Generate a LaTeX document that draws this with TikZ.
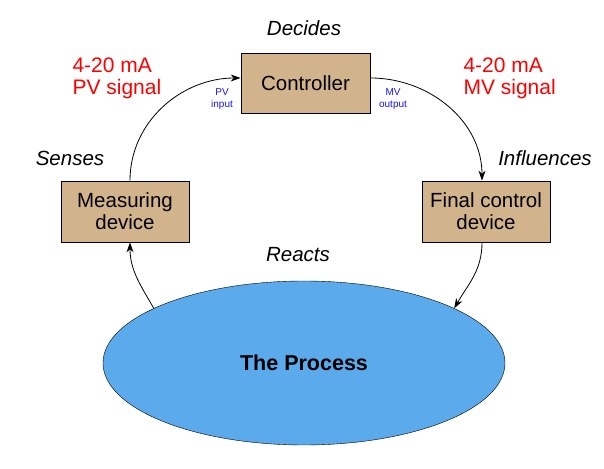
\documentclass[tikz,border=0pt]{standalone}
\usepackage{fontspec}
\setmainfont{Liberation Sans}
\usepackage{xcolor}
\definecolor{loop_tan}{RGB}{210, 180, 140}
\definecolor{loop_water}{RGB}{91, 170, 235}
\definecolor{loop_red}{RGB}{255, 0, 0}
\definecolor{loop_blue}{RGB}{20, 20, 255}
\usetikzlibrary{arrows.meta, positioning, shapes.geometric}

\begin{document}
\begin{tikzpicture}[x=1pt, y=1pt,
        devbox/.style={draw, thick, fill=loop_tan, align=center,
              font=\fontsize{20.5}{22}\selectfont, inner sep=0pt},
        verb/.style={font=\fontsize{20.5}{22}\selectfont\itshape},
        signal/.style={text=loop_red, align=left,
              font=\fontsize{21}{22}\selectfont},
        port/.style={text=loop_blue, align=center,
              font=\fontsize{10}{12}\selectfont},
        link/.style={-{Stealth[length=10pt, width=7pt]}, thick}]
        \useasboundingbox (0,0) rectangle (604,468);
        % the blocks
        \node[devbox, minimum width=129pt, minimum height=60pt]
              (ctrl) at (305.5,385) {Controller};
        \node[devbox, minimum width=128pt, minimum height=61pt]
              (meas) at (125,256.5) {Measuring\\device};
        \node[devbox, minimum width=128pt, minimum height=61pt]
              (fcd) at (486,256.5) {Final control\\device};
        \node[ellipse, draw, fill=loop_water, minimum width=402pt,
              minimum height=164pt, inner sep=0pt,
              font=\fontsize{21.5}{22}\selectfont\bfseries]
              (proc) at (304,105) {The Process};
        % what each one does
        \node[verb] (decides) at (304,440) {Decides};
        \node[verb] (senses) at (70,310) {Senses};
        \node[verb] (influences) at (545,310) {Influences};
        \node[verb] (reacts) at (298,213) {Reacts};
        % signal labels
        \node[signal, anchor=west] (pvsig) at (69,390) {4-20 mA\\PV signal};
        \node[signal, anchor=west] (mvsig) at (460,390) {4-20 mA\\MV signal};
        \node[port] (pvin) at (222,369) {PV\\input};
        \node[port] (mvout) at (393,369) {MV\\output};
        % the loop
        \draw[link] ([xshift=5pt]meas.north) to[out=90, in=180]
              ([yshift=5pt]ctrl.west);
        \draw[link] ([yshift=5pt]ctrl.east) to[out=0, in=90]
              ([xshift=-4pt]fcd.north);
        \draw[link] ([xshift=-4pt]fcd.south) to[out=-90, in=60] (proc.20);
        \draw[link] (proc.160) to[out=120, in=-90] ([xshift=5pt]meas.south);
      \end{tikzpicture}
\end{document}
